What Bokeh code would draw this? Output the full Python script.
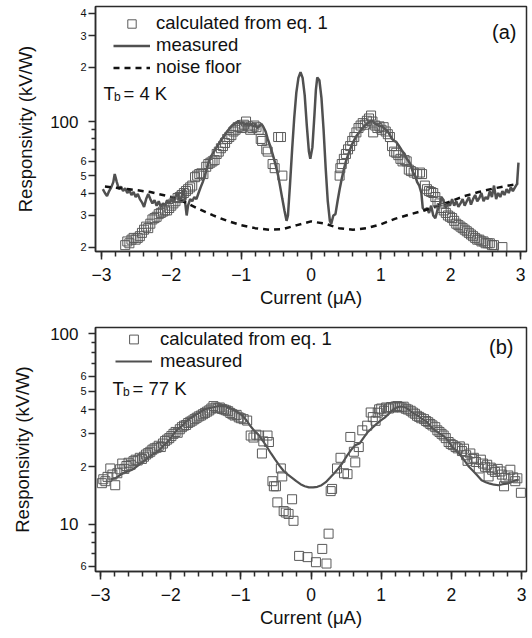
import numpy as np
from bokeh.plotting import figure
from bokeh.models import (Range1d, FixedTicker, SingleIntervalTicker, CustomJSTickFormatter,
                          Legend, LegendItem, Label, LogAxis)
from bokeh.layouts import column
from bokeh.embed import file_html
from bokeh.resources import INLINE

FONT = "Liberation Sans"

# ---------------- Panel (a): T_b = 4 K ----------------
meas_a_x = [-2.98, -2.95, -2.92, -2.89, -2.86, -2.83, -2.81, -2.78, -2.75, -2.72, -2.69, -2.66, -2.63, -2.60,
            -2.57, -2.54, -2.51, -2.48, -2.45, -2.42, -2.39, -2.36, -2.33, -2.30, -2.27, -2.24, -2.21, -2.18,
            -2.15, -2.12, -2.09, -2.06, -2.03, -2.00, -1.97, -1.94, -1.91, -1.88, -1.85, -1.82, -1.80, -1.78,
            -1.76, -1.73, -1.70, -1.67, -1.64, -1.61, -1.58, -1.55, -1.52, -1.49, -1.46, -1.43, -1.40, -1.37,
            -1.34, -1.31, -1.28, -1.25, -1.22, -1.19, -1.16, -1.13, -1.10, -1.07, -1.04, -1.01, -0.98, -0.95,
            -0.92, -0.89, -0.86, -0.83, -0.80, -0.77, -0.74, -0.71, -0.68, -0.65, -0.62, -0.59, -0.56, -0.53,
            -0.50, -0.47, -0.44, -0.41, -0.38, -0.35, -0.33, -0.30, -0.27, -0.24, -0.21, -0.18, -0.15, -0.12,
            -0.09, -0.06, -0.03, -0.01, 0.02, 0.05, 0.07, 0.09, 0.12, 0.15, 0.18, 0.21, 0.24, 0.27, 0.29,
            0.32, 0.35, 0.38, 0.41, 0.44, 0.47, 0.50, 0.53, 0.56, 0.59, 0.62, 0.65, 0.68, 0.71, 0.74, 0.77,
            0.80, 0.83, 0.86, 0.89, 0.92, 0.95, 0.98, 1.01, 1.04, 1.07, 1.10, 1.13, 1.16, 1.19, 1.22, 1.25,
            1.28, 1.31, 1.34, 1.37, 1.40, 1.43, 1.46, 1.49, 1.52, 1.55, 1.58, 1.60, 1.63, 1.66, 1.69, 1.72,
            1.75, 1.78, 1.81, 1.84, 1.87, 1.90, 1.93, 1.96, 1.99, 2.02, 2.05, 2.08, 2.11, 2.14, 2.17, 2.20,
            2.23, 2.26, 2.29, 2.32, 2.35, 2.38, 2.41, 2.44, 2.47, 2.50, 2.53, 2.56, 2.59, 2.62, 2.65, 2.68,
            2.71, 2.74, 2.77, 2.80, 2.83, 2.86, 2.89, 2.92, 2.95, 2.97]
meas_a_y = [42, 40, 38.5, 41, 43, 46, 51, 46, 42, 43.5, 41, 42.5, 40, 41.5,
            39, 40.5, 38, 39.5, 37, 35.5, 33.5, 37, 39.5, 37, 35, 36.5, 34, 36,
            33.5, 35, 34, 36.5, 35, 37, 35.5, 38, 40.5, 36, 38.5, 42, 35, 30,
            34, 37, 36, 38, 37, 40, 43, 46, 50, 55, 60, 64, 67, 70,
            73, 76, 80, 82, 86, 89, 92, 95, 97, 98, 101, 97, 99, 96,
            98, 95, 97, 94, 96, 92, 94, 97, 93, 88, 80, 74, 68, 62,
            56, 50, 43, 37, 32, 28, 30, 45, 70, 105, 145, 175, 188, 175,
            140, 95, 68, 62, 72, 110, 150, 176, 170, 135, 90, 55, 36, 28, 27,
            30, 30.5, 36, 42, 48, 54, 60, 65, 70, 75, 79, 83, 86, 89, 92, 95,
            97, 99, 101, 100, 97, 96, 94, 95, 92, 90, 88, 84, 80, 78, 77, 74,
            71, 68, 66, 62, 60, 57, 52, 50, 46, 44, 40, 33, 32, 33, 31, 34,
            30, 29, 32, 34, 38, 36, 33, 35, 34, 37, 34, 36, 33.5, 35, 37, 34,
            36, 38, 34.5, 37, 39, 36, 37.5, 40, 36, 38, 37, 41, 38, 44, 37, 40,
            38, 41, 39, 42, 40, 43, 41, 43, 45, 59]

noise_a_x = [-2.95, -2.6, -2.3, -2.0, -1.8, -1.6, -1.4, -1.2, -1.0, -0.8, -0.6, -0.4, -0.2, 0.0, 0.2,
             0.4, 0.6, 0.8, 1.0, 1.2, 1.4, 1.6, 1.8, 2.0, 2.2, 2.4, 2.6, 2.8, 2.97]
noise_a_y = [43.5, 42, 40.5, 38, 35.5, 32.5, 30, 28, 26.5, 25.5, 25, 25.2, 26.5, 27.8, 27,
             25.5, 25, 25.5, 26.8, 28.7, 30.3, 31.8, 33.8, 36, 38.5, 40.5, 42.3, 43.8, 45]

calc_a_x = [-2.66, -2.63, -2.60, -2.57, -2.54, -2.51, -2.48, -2.45, -2.42, -2.39, -2.36, -2.33, -2.30, -2.27,
            -2.24, -2.21, -2.18, -2.15, -2.12, -2.09, -2.06, -2.03, -2.00, -1.97, -1.94, -1.91, -1.88, -1.85,
            -1.82, -1.79, -1.76, -1.73, -1.70, -1.66, -1.63, -1.60, -1.57, -1.54, -1.50, -1.47, -1.44, -1.41,
            -1.38, -1.35, -1.32, -1.29, -1.26, -1.23, -1.20, -1.17, -1.14, -1.11, -1.08, -1.05, -1.02, -0.99,
            -0.96, -0.93, -0.90, -0.87, -0.84, -0.81, -0.78, -0.75, -0.72, -0.70, -0.64, -0.62, -0.55, -0.52,
            -0.47, -0.43, -0.41,
            0.41, 0.42, 0.44, 0.47, 0.50, 0.53, 0.56, 0.59, 0.62, 0.65, 0.68, 0.71, 0.74, 0.77, 0.80, 0.83,
            0.86, 0.88, 0.89, 0.92, 0.95, 0.98, 1.01, 1.04, 1.07, 1.10, 1.13, 1.16, 1.19, 1.22, 1.25, 1.28,
            1.31, 1.34, 1.37, 1.40, 1.43, 1.47, 1.52, 1.56, 1.59, 1.63, 1.66, 1.69, 1.72, 1.75, 1.78, 1.81,
            1.84, 1.87, 1.90, 1.93, 1.96, 1.99, 2.02, 2.05, 2.08, 2.11, 2.14, 2.17, 2.20, 2.23, 2.26, 2.29,
            2.32, 2.35, 2.38, 2.41, 2.44, 2.47, 2.50, 2.53, 2.56, 2.59, 2.62, 2.74]
calc_a_y = [20.5, 21.5, 21, 22, 22.5, 22, 22.5, 23, 24, 25, 26, 25.5, 27, 28.5,
            29, 29.5, 30.5, 31, 31.5, 32, 32, 33, 34, 35, 36, 37.5, 38, 39,
            40, 41, 42, 43, 44, 49, 50, 51, 51.5, 51, 56, 58, 59, 60,
            61, 66, 68, 71, 73, 76, 80, 82, 84, 88, 90, 93, 94, 92,
            96, 100, 94, 90, 92, 95, 93, 90, 80, 78, 70, 68, 58, 55,
            82, 82, 50,
            50, 55, 58, 62, 66, 70, 73, 78, 82, 87, 92, 95, 98, 96, 101, 104,
            108, 100, 87, 95, 92, 94, 90, 93, 88, 85, 82, 73, 68, 67, 65, 62,
            60, 61, 60, 54, 53, 52, 51, 52, 51, 44, 42, 41, 40.5, 40, 38, 36,
            35, 33, 32, 31, 30, 29.5, 29, 28, 27, 26.5, 26, 25.5, 25, 24.5, 24, 23.5,
            23, 22.5, 22, 22, 21.5, 21.5, 21, 21, 21, 20.5, 20.5, 20]

# ---------------- Panel (b): T_b = 77 K ----------------
meas_b_x = [-2.85, -2.79, -2.73, -2.67, -2.61, -2.55, -2.49, -2.43, -2.37, -2.31, -2.25, -2.19, -2.13, -2.07,
            -2.01, -1.95, -1.89, -1.83, -1.77, -1.71, -1.65, -1.59, -1.53, -1.47, -1.41, -1.35, -1.29, -1.23,
            -1.17, -1.11, -1.05, -0.99, -0.93, -0.87, -0.81, -0.75, -0.69, -0.63, -0.57, -0.51, -0.45, -0.39,
            -0.33, -0.27, -0.21, -0.15, -0.09, -0.03, 0.03, 0.09, 0.15, 0.21, 0.27, 0.33, 0.39, 0.45, 0.51,
            0.57, 0.63, 0.69, 0.75, 0.81, 0.87, 0.93, 0.99, 1.05, 1.11, 1.17, 1.23, 1.29, 1.35, 1.41, 1.47,
            1.53, 1.59, 1.65, 1.71, 1.77, 1.83, 1.89, 1.95, 2.01, 2.07, 2.13, 2.19, 2.25, 2.31, 2.37, 2.43,
            2.49, 2.55, 2.61, 2.67, 2.73, 2.79, 2.85, 2.91, 2.96]
meas_b_y = [17.2, 17.4, 18.0, 18.6, 18.9, 19.3, 20.0, 20.8, 21.6, 22.5, 23.3, 24.0, 25.2, 26.5,
            28.0, 30.0, 31.8, 33.0, 35.0, 36.3, 37.5, 38.5, 39.8, 40.5, 41.0, 41.5, 41.8, 41.7,
            41.0, 40.0, 38.8, 37.5, 35.5, 33.0, 31.0, 29.5, 27.5, 25.5, 23.5, 21.8, 20.3, 19.0,
            18.2, 17.5, 16.8, 16.2, 15.8, 15.6, 15.6, 15.7, 16.0, 16.6, 17.5, 18.5, 19.6, 21.0, 22.8,
            24.5, 26.0, 26.5, 28.5, 30.5, 32.0, 33.5, 35.0, 36.3, 38.0, 40.0, 41.2, 41.5, 41.0, 39.5, 38.0,
            37.0, 35.5, 34.5, 32.5, 31.0, 30.0, 29.0, 27.5, 25.5, 24.2, 23.0, 21.5, 20.0, 19.0, 18.0, 17.0,
            16.6, 16.3, 16.1, 16.0, 16.2, 16.3, 16.6, 17.0, 17.1]

calc_b_x = [-2.98, -2.96, -2.93, -2.90, -2.86, -2.83, -2.79, -2.76, -2.72, -2.69, -2.66, -2.63, -2.60, -2.57,
            -2.53, -2.50, -2.47, -2.44, -2.41, -2.38, -2.35, -2.32, -2.29, -2.26, -2.23, -2.20, -2.17, -2.14,
            -2.11, -2.08, -2.05, -2.02, -1.99, -1.96, -1.93, -1.90, -1.87, -1.84, -1.81, -1.78, -1.75, -1.72,
            -1.69, -1.66, -1.63, -1.60, -1.57, -1.54, -1.51, -1.48, -1.45, -1.42, -1.39, -1.36, -1.33, -1.30,
            -1.27, -1.24, -1.21, -1.18, -1.15, -1.12, -1.09, -1.06, -1.03, -1.00, -0.96, -0.91, -0.86, -0.82,
            -0.78, -0.74, -0.70, -0.68, -0.62, -0.60, -0.55, -0.53, -0.50, -0.48, -0.43, -0.41, -0.39, -0.36,
            -0.32, -0.27, -0.25, -0.17, -0.05, 0.07, 0.16, 0.22, 0.25,
            0.28, 0.30, 0.37, 0.42, 0.47, 0.52, 0.56, 0.61, 0.63, 0.68, 0.73, 0.80, 0.85, 0.88, 0.92, 0.95,
            0.97, 1.00, 1.04, 1.07, 1.11, 1.14, 1.17, 1.20, 1.23, 1.26, 1.29, 1.32, 1.35, 1.38, 1.42, 1.45,
            1.48, 1.51, 1.54, 1.57, 1.61, 1.64, 1.67, 1.70, 1.73, 1.77, 1.80, 1.83, 1.86, 1.89, 1.92, 1.96,
            1.99, 2.02, 2.06, 2.09, 2.12, 2.15, 2.18, 2.21, 2.23, 2.27, 2.30, 2.32, 2.35, 2.39, 2.42, 2.45,
            2.48, 2.51, 2.53, 2.56, 2.58, 2.62, 2.66, 2.70, 2.72, 2.75, 2.77, 2.81, 2.84, 2.88, 2.91, 2.94,
            2.99]
calc_b_y = [16.4, 17.2, 16.8, 17.7, 19.6, 18.2, 16.0, 18.5, 19.4, 20.8, 19.5, 20.2, 21.0, 20.5,
            21.4, 21.8, 21.6, 22.3, 22.0, 22.6, 23.2, 23.6, 24.0, 24.6, 25.0, 25.2, 25.8, 25.4,
            26.5, 27.3, 27.8, 28.3, 29.0, 29.8, 30.5, 30.2, 31.5, 32.3, 32.9, 33.2, 34.0, 34.5,
            35.0, 35.6, 36.2, 36.8, 37.2, 37.8, 38.4, 39.0, 39.6, 40.5, 41.7, 41.0, 40.6, 41.0,
            40.3, 40.0, 39.6, 39.2, 38.4, 37.8, 37.2, 37.5, 36.4, 36.0, 35.6, 35.0, 29.2, 28.5,
            29.5, 29.2, 23.5, 27.2, 29.2, 27.0, 16.8, 15.8, 15.8, 13.0, 19.6, 17.8, 11.7, 11.5,
            11.3, 13.5, 10.4, 6.8, 6.7, 6.3, 7.4, 6.2, 8.9,
            14.9, 15.3, 19.6, 22.3, 18.5, 18.3, 28.7, 24.0, 21.1, 25.4, 31.1, 32.9, 38.6, 36.5, 34.9, 38.5,
            40.1, 40.5, 39.4, 41.0, 40.5, 41.2, 41.0, 41.5, 41.7, 41.2, 41.0, 41.4, 40.4, 40.0, 39.4, 38.6,
            38.0, 37.1, 36.6, 36.0, 35.6, 34.8, 34.3, 33.6, 33.0, 32.3, 31.1, 30.5, 29.8, 29.2, 28.3, 27.0,
            26.4, 26.0, 25.4, 25.0, 25.6, 24.2, 24.9, 23.0, 21.5, 23.5, 22.0, 22.3, 21.2, 19.6, 21.8, 20.8,
            20.0, 20.5, 17.8, 19.8, 19.3, 18.8, 19.5, 18.9, 18.2, 15.8, 17.5, 18.0, 19.3, 17.6, 16.8, 17.4,
            14.6]

# axis ticks (small digit labels on the inner axis, decade labels on the outer one)
y_ticks_a = [20, 30, 40, 50, 60, 100, 200, 300, 400]
y_labels_a = ["2", "3", "4", "5", "6", "", "2", "3", "4"]
y_minor_a = [70, 80, 90]
y_dec_a = [100]
y_dec_labels_a = ["100"]
y_ticks_b = [6, 10, 20, 30, 40, 50, 60, 100]
y_labels_b = ["6", "", "2", "3", "4", "5", "6", ""]
y_minor_b = [7, 8, 9, 70, 80, 90]
y_dec_b = [10, 100]
y_dec_labels_b = ["10", "100"]

legend_labels_a = ["calculated from eq. 1", "measured", "noise floor"]
legend_labels_b = ["calculated from eq. 1", "measured"]

AX = "#2b2b2b"
LINE = "#505050"
SQ = "#5a5a5a"
TXT = "#111111"


def label_formatter(vals, labels):
    return CustomJSTickFormatter(args=dict(tv=vals, tl=labels), code="""
        for (let i = 0; i < tv.length; i++) {
            if (Math.abs(tv[i] - tick) < 1e-6 * tv[i]) return tl[i];
        }
        return "";
    """)


def style_axes(p, tick_vals, tick_labels, minor, dec_vals, dec_labels, left_standoff):
    p.xgrid.visible = False
    p.ygrid.visible = False
    p.outline_line_color = AX
    p.outline_line_width = 1.5
    xa = p.xaxis[0]
    ya = p.yaxis[0]
    xa.ticker = SingleIntervalTicker(interval=1, num_minor_ticks=5)
    ya.ticker = FixedTicker(ticks=tick_vals, minor_ticks=minor)
    ya.formatter = label_formatter(tick_vals, tick_labels)
    for ax in (xa, ya):
        ax.axis_line_color = AX
        ax.axis_line_width = 1.5
        ax.major_tick_line_color = AX
        ax.major_tick_line_width = 1.5
        ax.minor_tick_line_color = AX
        ax.minor_tick_line_width = 1.5
        ax.major_tick_in = 0
        ax.minor_tick_in = 0
        ax.major_label_text_font = FONT
        ax.major_label_text_color = TXT
        ax.axis_label_text_font = FONT
        ax.axis_label_text_font_style = "normal"
        ax.axis_label_text_font_size = "18.5px"
        ax.axis_label_text_color = TXT
    xa.major_tick_out = 8
    xa.minor_tick_out = 5
    xa.major_label_text_font_size = "17.5px"
    xa.major_label_standoff = 8
    xa.axis_label_standoff = 3
    xa.axis_label = "Current (\u03bcA)"
    ya.major_tick_out = 7
    ya.minor_tick_out = 4
    ya.major_label_text_font_size = "11px"
    ya.major_label_standoff = 2
    # outer axis carrying the larger decade labels and the axis title
    outer = LogAxis(ticker=FixedTicker(ticks=dec_vals, minor_ticks=[]),
                    formatter=label_formatter(dec_vals, dec_labels),
                    axis_line_color=None, major_tick_line_color=None, minor_tick_line_color=None,
                    major_tick_out=0, major_tick_in=0, minor_tick_out=0, minor_tick_in=0,
                    major_label_standoff=-1,
                    major_label_text_font=FONT, major_label_text_font_size="17px",
                    major_label_text_color=TXT,
                    axis_label="Responsivity (kV/W)", axis_label_text_font=FONT,
                    axis_label_text_font_style="normal", axis_label_text_font_size="18.5px",
                    axis_label_text_color=TXT, axis_label_standoff=left_standoff)
    p.add_layout(outer, "left")


def add_tb(p, x0, ybase, rest):
    p.add_layout(Label(x=x0, y=ybase, x_units="screen", y_units="screen", text="T",
                       text_align="left", text_baseline="alphabetic",
                       text_font=FONT, text_font_size="18.5px", text_color=TXT))
    p.add_layout(Label(x=x0 + 10.5, y=ybase - 3, x_units="screen", y_units="screen", text="b",
                       text_align="left", text_baseline="alphabetic",
                       text_font=FONT, text_font_size="12px", text_color=TXT))
    p.add_layout(Label(x=x0 + 20, y=ybase, x_units="screen", y_units="screen", text=rest,
                       text_align="left", text_baseline="alphabetic",
                       text_font=FONT, text_font_size="18.5px", text_color=TXT))


# ---------------- figure (a) ----------------
pa = figure(width=528, height=318, x_range=Range1d(-3.085, 3.085), y_range=Range1d(18.9, 437),
            y_axis_type="log", output_backend="svg", toolbar_location=None,
            min_border_left=92, min_border_right=2, min_border_top=6, min_border_bottom=67)
style_axes(pa, y_ticks_a, y_labels_a, y_minor_a, y_dec_a, y_dec_labels_a, 11)
ra_meas = pa.line(meas_a_x, meas_a_y, line_color=LINE, line_width=2.5)
ra_noise = pa.line(noise_a_x, noise_a_y, line_color=TXT, line_width=2.5, line_dash="6 5")
ra_calc = pa.scatter(calc_a_x, calc_a_y, marker="square", size=9, fill_color=None,
                     line_color=SQ, line_width=1)
leg_a = Legend(items=[LegendItem(label=legend_labels_a[0], renderers=[ra_calc]),
                      LegendItem(label=legend_labels_a[1], renderers=[ra_meas]),
                      LegendItem(label=legend_labels_a[2], renderers=[ra_noise])],
               location=(18, 173), padding=0, margin=0, spacing=0,
               glyph_width=37, glyph_height=21, label_height=21, label_standoff=6,
               label_text_font=FONT, label_text_font_size="18.5px", label_text_color=TXT,
               border_line_color=None, background_fill_alpha=0)
pa.add_layout(leg_a)
add_tb(pa, 8, 158, "= 4 K")
pa.add_layout(Label(x=421, y=220, x_units="screen", y_units="screen", text="(a)",
                    text_align="right", text_baseline="middle",
                    text_font=FONT, text_font_size="20px", text_color=TXT))

# ---------------- figure (b) ----------------
pb = figure(width=528, height=312, x_range=Range1d(-3.071, 3.07), y_range=Range1d(5.63, 108),
            y_axis_type="log", output_backend="svg", toolbar_location=None,
            min_border_left=95, min_border_right=2, min_border_top=9, min_border_bottom=55)
style_axes(pb, y_ticks_b, y_labels_b, y_minor_b, y_dec_b, y_dec_labels_b, 14)
rb_meas = pb.line(meas_b_x, meas_b_y, line_color=LINE, line_width=2.2)
rb_calc = pb.scatter(calc_b_x, calc_b_y, marker="square", size=9, fill_color=None,
                     line_color=SQ, line_width=1)
leg_b = Legend(items=[LegendItem(label=legend_labels_b[0], renderers=[rb_calc]),
                      LegendItem(label=legend_labels_b[1], renderers=[rb_meas])],
               location=(20, 199), padding=0, margin=0, spacing=0,
               glyph_width=37, glyph_height=22, label_height=22, label_standoff=8,
               label_text_font=FONT, label_text_font_size="18.5px", label_text_color=TXT,
               border_line_color=None, background_fill_alpha=0)
pb.add_layout(leg_b)
add_tb(pb, 17, 183, "= 77 K")
pb.add_layout(Label(x=418, y=225, x_units="screen", y_units="screen", text="(b)",
                    text_align="right", text_baseline="middle",
                    text_font=FONT, text_font_size="20px", text_color=TXT))

layout = column(pa, pb, spacing=0)
open("out.html", "w").write(file_html(layout, INLINE))
